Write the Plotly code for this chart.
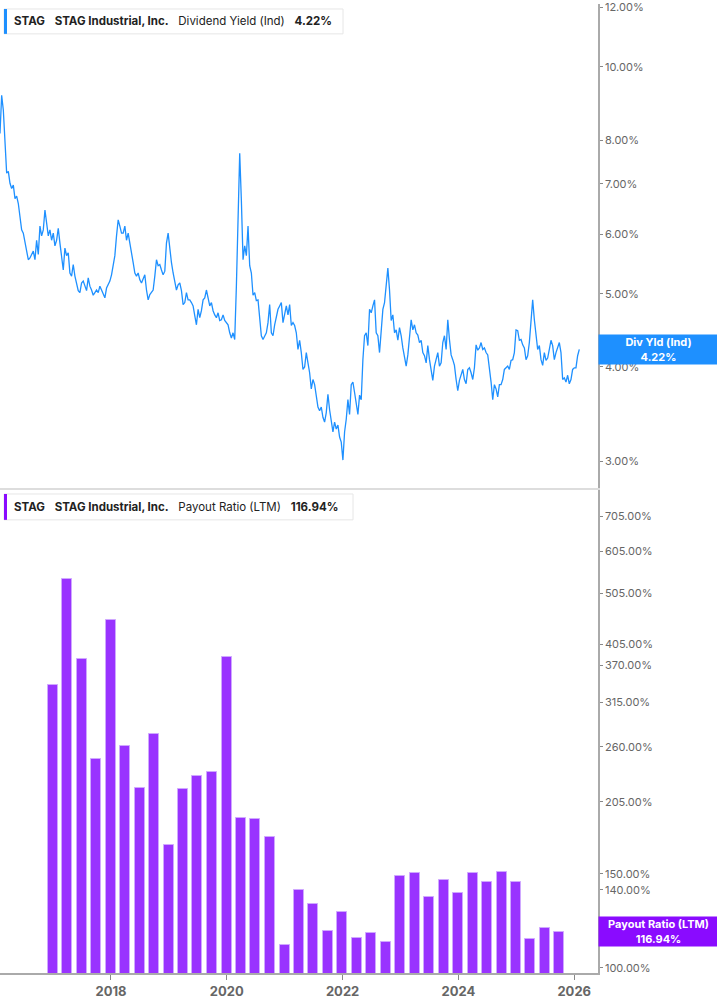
import math
import pandas as pd
import plotly.graph_objects as go

# ---------------- data ----------------
YIELD_START = "2016-02-01"
YIELD_STEP = "252h"  # sampling interval of the series (~10.5 days)
DIV_YIELD = [
    8.16, 9.17, 8.76, 8.09, 7.23, 7.27, 7.01, 6.90, 6.97, 6.69,
    6.74, 6.59, 6.34, 6.08, 6.02, 5.84, 5.72, 5.55, 5.58, 5.64,
    5.70, 5.55, 5.89, 5.64, 6.15, 5.97, 6.08, 6.46, 6.21, 5.97,
    6.08, 5.89, 6.02, 5.79, 5.89, 6.11, 5.84, 5.55, 5.38, 5.75,
    5.62, 5.67, 5.33, 5.28, 5.47, 5.28, 5.17, 5.05, 5.02, 5.17,
    5.20, 5.12, 5.05, 5.25, 5.12, 5.06, 4.98, 5.02, 5.06, 5.02,
    5.12, 5.06, 4.99, 4.94, 5.09, 5.14, 5.20, 5.30, 5.50, 5.62,
    5.97, 6.27, 6.15, 6.02, 6.02, 6.15, 5.89, 6.02, 5.84, 5.62,
    5.50, 5.33, 5.28, 5.33, 5.22, 5.17, 5.25, 5.30, 5.06, 4.91,
    4.99, 5.02, 5.06, 5.28, 5.55, 5.45, 5.47, 5.38, 5.30, 5.36,
    5.84, 6.02, 5.72, 5.50, 5.33, 5.17, 5.06, 5.14, 5.17, 5.05,
    4.84, 4.87, 5.02, 4.91, 4.91, 4.87, 4.82, 4.68, 4.55, 4.77,
    4.65, 4.75, 4.91, 4.94, 5.06, 4.94, 4.82, 4.87, 4.75, 4.69,
    4.65, 4.72, 4.61, 4.62, 4.69, 4.61, 4.58, 4.55, 4.44, 4.37,
    4.44, 4.35, 5.12, 6.34, 7.68, 6.65, 5.55, 5.79, 5.62, 6.15,
    5.45, 5.33, 4.98, 5.02, 4.90, 4.91, 4.62, 4.40, 4.35, 4.40,
    4.44, 4.58, 4.84, 4.44, 4.40, 4.55, 4.65, 4.77, 4.82, 4.87,
    4.58, 4.68, 4.82, 4.69, 4.84, 4.54, 4.58, 4.54, 4.44, 4.22,
    4.34, 4.18, 3.97, 4.00, 4.18, 4.05, 3.93, 3.74, 3.85, 3.79,
    3.67, 3.54, 3.50, 3.54, 3.43, 3.38, 3.48, 3.68, 3.51, 3.36,
    3.28, 3.38, 3.31, 3.35, 3.23, 3.18, 3.01, 3.28, 3.41, 3.62,
    3.46, 3.79, 3.82, 3.70, 3.56, 3.46, 3.67, 3.62, 4.09, 4.40,
    4.44, 4.27, 4.77, 4.72, 4.82, 4.91, 4.44, 4.40, 4.18, 4.48,
    4.77, 4.87, 5.17, 5.41, 5.06, 4.61, 4.69, 4.44, 4.48, 4.34,
    4.51, 4.40, 4.24, 4.14, 4.01, 4.15, 4.35, 4.62, 4.48, 4.55,
    4.44, 4.41, 4.31, 4.34, 4.18, 4.14, 4.05, 4.27, 4.09, 3.98,
    3.84, 4.01, 4.11, 4.18, 4.01, 4.05, 4.31, 4.40, 4.22, 4.62,
    4.35, 4.15, 4.09, 4.02, 3.85, 3.72, 3.84, 3.90, 3.97, 3.85,
    3.80, 3.97, 3.99, 3.93, 3.85, 3.99, 4.28, 4.21, 4.24, 4.31,
    4.22, 4.24, 4.18, 4.15, 4.01, 3.82, 3.62, 3.79, 3.74, 3.65,
    3.79, 3.79, 3.85, 3.97, 3.99, 4.01, 3.97, 4.08, 4.09, 4.18,
    4.48, 4.47, 4.34, 4.35, 4.28, 4.24, 4.09, 4.14, 4.31, 4.62,
    4.91, 4.62, 4.44, 4.22, 4.27, 4.09, 4.02, 4.18, 4.08, 4.11,
    4.22, 4.34, 4.27, 4.09, 4.18, 4.24, 4.31, 4.18, 3.85, 3.87,
    3.82, 3.90, 3.80, 3.85, 3.97, 3.99, 3.99, 4.14, 4.22,
]

QUARTERS = [
    "2016-12-31", "2017-03-31", "2017-06-30", "2017-09-30",
    "2017-12-31", "2018-03-31", "2018-06-30", "2018-09-30",
    "2018-12-31", "2019-03-31", "2019-06-30", "2019-09-30",
    "2019-12-31", "2020-03-31", "2020-06-30", "2020-09-30",
    "2020-12-31", "2021-03-31", "2021-06-30", "2021-09-30",
    "2021-12-31", "2022-03-31", "2022-06-30", "2022-09-30",
    "2022-12-31", "2023-03-31", "2023-06-30", "2023-09-30",
    "2023-12-31", "2024-03-31", "2024-06-30", "2024-09-30",
    "2024-12-31", "2025-03-31", "2025-06-30", "2025-09-30",
]
PAYOUT = [
    339.5, 537.4, 380.2, 247.1, 450.4, 260.6, 217.6, 274.8,
    170.2, 216.6, 229.6, 233.3, 384.1, 190.8, 190.3, 176.1,
    110.3, 139.8, 131.7, 117.3, 127.1, 113.8, 116.3, 111.7,
    148.9, 150.5, 135.6, 146.3, 138.1, 150.5, 144.8, 151.6,
    144.6, 113.0, 118.7, 116.94,
]

YIELD_TICKS = [3, 4, 5, 6, 7, 8, 10, 12]
PAYOUT_TICKS = [100, 140, 150, 205, 260, 315, 370, 405, 505, 605, 705]
YEAR_TICKS = ["2018-01-01", "2020-01-01", "2022-01-01", "2024-01-01", "2026-01-01"]
YEAR_LABELS = ["2018", "2020", "2022", "2024", "2026"]

LAST_YIELD = DIV_YIELD[-1]
LAST_PAYOUT = PAYOUT[-1]

# ---------------- styling ----------------
W, H = 717, 1005
ML, MR, MT, MB = 0, 119, 0, 32
PLOT_W = W - ML - MR
PLOT_H = H - MT - MB
BLUE = "#1E90FF"
PURPLE_BAR = "#9933FF"
PURPLE_TAG = "#8A0BFF"
FONT = "Inter"


def px_x(x):
    return (x - ML) / PLOT_W


def px_y(y):
    return 1 - (y - MT) / PLOT_H


dates = pd.date_range(YIELD_START, periods=len(DIV_YIELD), freq=YIELD_STEP)

fig = go.Figure()
fig.add_trace(go.Scatter(
    x=dates, y=DIV_YIELD, mode="lines",
    line=dict(color=BLUE, width=1.3),
    xaxis="x", yaxis="y", showlegend=False, hoverinfo="skip",
))
fig.add_trace(go.Bar(
    x=pd.to_datetime(QUARTERS), y=PAYOUT,
    width=63 * 86400000,
    marker=dict(color=PURPLE_BAR, line=dict(color="#CFA8FF", width=1)),
    xaxis="x2", yaxis="y2", showlegend=False, hoverinfo="skip",
))

xrange = ["2016-02-01", "2026-05-31"]
top_dom = [px_y(486), 1]
bot_dom = [0, px_y(488)]

tickfont = dict(family=FONT, size=11, color="#666666")

fig.update_layout(
    width=W, height=H,
    margin=dict(l=ML, r=MR, t=MT, b=MB),
    paper_bgcolor="white", plot_bgcolor="white",
    font=dict(family=FONT),
    bargap=0,
    xaxis=dict(
        domain=[0, 1], range=xrange, anchor="y", type="date",
        showgrid=False, zeroline=False, showticklabels=False, ticks="",
        showline=True, linecolor="#DDDDDD", linewidth=2,
    ),
    yaxis=dict(
        domain=top_dom, type="log",
        range=[math.log10(2.764), math.log10(12.12)],
        side="right", anchor="x", showgrid=False, zeroline=False,
        tickvals=YIELD_TICKS, ticktext=[f"{v:.2f}%" for v in YIELD_TICKS],
        ticks="outside", ticklen=3, tickcolor="#888888",
        showline=True, linecolor="#AAAAAA", linewidth=1.5,
        tickfont=tickfont, ticklabeloverflow="allow",
    ),
    xaxis2=dict(
        domain=[0, 1], range=xrange, anchor="y2", type="date",
        showgrid=False, zeroline=False,
        tickvals=YEAR_TICKS, ticktext=[f"<b>{t}</b>" for t in YEAR_LABELS],
        ticks="outside", ticklen=5, tickcolor="#888888",
        tickfont=dict(family=FONT, size=13, color="#666666"),
        showline=True, linecolor="#AAAAAA", linewidth=2,
    ),
    yaxis2=dict(
        domain=bot_dom, type="log", range=[1.9901, 2.8973],
        side="right", anchor="x2", showgrid=False, zeroline=False,
        tickvals=PAYOUT_TICKS, ticktext=[f"{v:.2f}%" for v in PAYOUT_TICKS],
        ticks="outside", ticklen=3, tickcolor="#888888",
        showline=True, linecolor="#AAAAAA", linewidth=1.5,
        tickfont=tickfont,
    ),
)

shapes = []
annotations = []


def legend_box(x0, x1, y0, y1, color, text):
    shapes.append(dict(type="rect", xref="paper", yref="paper",
                       x0=px_x(x0), x1=px_x(x1), y0=px_y(y1), y1=px_y(y0),
                       line=dict(color="#E6E6E6", width=1), fillcolor="white",
                       layer="above"))
    shapes.append(dict(type="rect", xref="paper", yref="paper",
                       x0=px_x(x0), x1=px_x(x0 + 3), y0=px_y(y1), y1=px_y(y0),
                       line=dict(width=0), fillcolor=color, layer="above"))
    annotations.append(dict(xref="paper", yref="paper", x=px_x(x0 + 8),
                            y=px_y((y0 + y1) / 2), xanchor="left", yanchor="middle",
                            text=text, showarrow=False,
                            font=dict(family=FONT, size=11.5, color="#222222")))


SP = "\u00a0" * 3
legend_box(4, 343, 5, 30, BLUE,
           f"<b>STAG</b>{SP}<b>STAG Industrial, Inc.</b>{SP}Dividend Yield (Ind){SP}<b>{LAST_YIELD:.2f}%</b>")
legend_box(4, 353, 492, 518, PURPLE_TAG,
           f"<b>STAG</b>{SP}<b>STAG Industrial, Inc.</b>{SP}Payout Ratio (LTM){SP}<b>{LAST_PAYOUT:.2f}%</b>")

annotations.append(dict(
    xref="paper", yref="y", x=1, y=math.log10(LAST_YIELD), xanchor="left",
    yanchor="middle", showarrow=False,
    text=f"<b>Div Yld (Ind)</b><br><b>{LAST_YIELD:.2f}%</b>",
    font=dict(family=FONT, size=11, color="white"),
    bgcolor=BLUE, width=119, height=29, borderpad=0, align="center",
))
annotations.append(dict(
    xref="paper", yref="y2", x=1, y=math.log10(LAST_PAYOUT), xanchor="left",
    yanchor="middle", showarrow=False,
    text=f"<b>Payout Ratio (LTM)</b><br><b>{LAST_PAYOUT:.2f}%</b>",
    font=dict(family=FONT, size=11, color="white"),
    bgcolor=PURPLE_TAG, width=119, height=29, borderpad=0, align="center",
))

fig.update_layout(shapes=shapes, annotations=annotations)
fig.write_html(
    "out.html",
    config={"displayModeBar": False},
    post_script="document.body.style.margin='0';document.body.style.padding='0';",
)
